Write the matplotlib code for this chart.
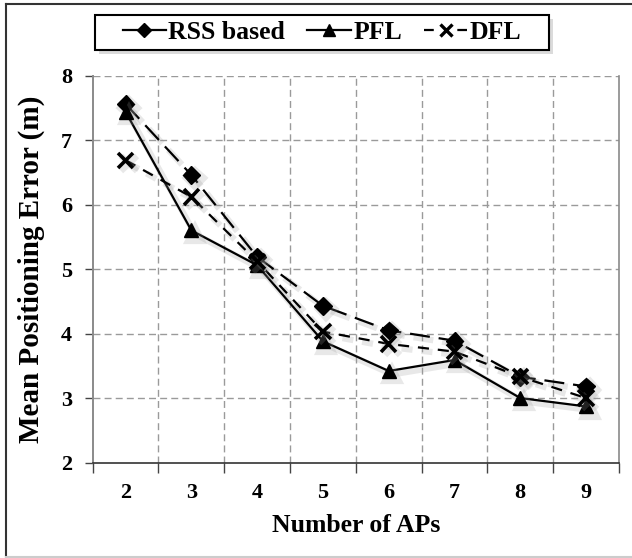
import matplotlib
matplotlib.use("Agg")
import matplotlib.pyplot as plt
from matplotlib.lines import Line2D
from matplotlib.patches import Rectangle
from matplotlib import patheffects as pe
import numpy as np

# Number of access points (categorical x axis)
aps = ["2", "3", "4", "5", "6", "7", "8", "9"]

# Mean positioning error (m) per method
rss_based = [7.56, 6.46, 5.19, 4.43, 4.05, 3.89, 3.33, 3.18]
pfl = [7.44, 5.60, 5.06, 3.88, 3.42, 3.59, 3.00, 2.87]
dfl = [6.69, 6.12, 5.12, 4.03, 3.84, 3.72, 3.33, 3.00]

y_ticks = [2, 3, 4, 5, 6, 7, 8]

plt.rcParams["font.family"] = ["Liberation Serif", "DejaVu Serif"]
plt.rcParams["font.weight"] = "bold"

W, H = 632, 558
fig = plt.figure(figsize=(W / 100, H / 100), dpi=100)
ax = fig.add_axes([0.1467, 0.1711, 0.9794 - 0.1467, 0.8643 - 0.1711])

x = np.arange(len(aps))
shadow = [pe.SimpleLineShadow(offset=(2.5, -2.5), shadow_color="0.6", alpha=0.22, linewidth=4.5),
          pe.Normal()]

ax.plot(x, rss_based, color="black", lw=1.6, dashes=(9, 4), marker="D", ms=9,
        mfc="black", mec="black", path_effects=shadow, zorder=4)
ax.plot(x, pfl, color="black", lw=1.6, ls="-", marker="^", ms=10,
        mfc="black", mec="black", path_effects=shadow, zorder=4)
ax.plot(x, dfl, color="black", lw=1.6, dashes=(5, 4), marker="x", ms=11, mew=2.6,
        mec="black", path_effects=shadow, zorder=4)

ax.set_xlim(-0.5, len(aps) - 0.5)
ax.set_ylim(2, 8)

# Category labels centered, tick marks on the category boundaries
ax.set_xticks(x)
ax.set_xticklabels(aps, fontsize=16, fontweight="bold")
ax.tick_params(axis="x", which="major", length=0, pad=15)
ax.set_xticks(np.arange(-0.5, len(aps)), minor=True)
ax.tick_params(axis="x", which="minor", length=7, width=1, color="#444444", direction="out")

ax.set_yticks(y_ticks)
ax.set_yticklabels([str(v) for v in y_ticks], fontsize=16, fontweight="bold")
ax.tick_params(axis="y", length=6, width=1, color="#444444", direction="out", pad=9)

# Dashed grid
for v in y_ticks[1:]:
    ax.axhline(v, color="#9a9a9a", lw=1, dashes=(5, 3), zorder=1)
for b in np.arange(0.5, len(aps) - 1):
    ax.axvline(b, color="#9a9a9a", lw=1, dashes=(5, 3), zorder=1)

ax.spines["top"].set_visible(False)
ax.spines["left"].set_color("#8a8a8a")
ax.spines["left"].set_linewidth(1.4)
ax.spines["right"].set_color("#8a8a8a")
ax.spines["right"].set_linewidth(1.2)
ax.spines["bottom"].set_color("#333333")
ax.spines["bottom"].set_linewidth(1.2)

ax.set_xlabel("Number of APs", fontsize=18.5, fontweight="bold", labelpad=8)
ax.set_ylabel("Mean Positioning Error (m)", fontsize=21, fontweight="bold", labelpad=11)

# Legend entries, drawn without their own frame
handles = [
    Line2D([], [], color="black", lw=1.6, marker="D", ms=7, label="RSS based"),
    Line2D([], [], color="black", lw=1.6, marker="^", ms=8, label="PFL"),
    Line2D([], [], color="black", lw=1.6, dashes=(4.4, 10.6), marker="x", ms=9, mew=2.4,
           label="DFL"),
]
leg = fig.legend(handles=handles, loc="center", bbox_to_anchor=(322 / W, 1 - 32.5 / H), ncol=3,
                 frameon=False,
                 prop={"family": "Liberation Serif", "weight": "bold", "size": 18.5},
                 handlelength=1.68, handletextpad=0.1, columnspacing=0.86,
                 borderpad=0.0, borderaxespad=0.0)

# Legend box with a soft drop shadow
bx0, by0, bw, bh = 95, 15, 454, 35
fig.add_artist(Rectangle(((bx0 + 4) / W, 1 - (by0 + bh + 4) / H), bw / W, bh / H,
                         transform=fig.transFigure, facecolor="0.86", edgecolor="none",
                         zorder=2))
fig.add_artist(Rectangle((bx0 / W, 1 - (by0 + bh) / H), bw / W, bh / H,
                         transform=fig.transFigure, facecolor="white", edgecolor="black",
                         lw=1.5, zorder=3))
leg.set_zorder(5)

# Chart border
fig.add_artist(Line2D([6 / W, 6 / W], [1.5 / H, 1 - 4 / H], transform=fig.transFigure,
                      color="#333333", lw=1.5))
fig.add_artist(Line2D([6 / W, 1.0], [1 - 4 / H, 1 - 4 / H], transform=fig.transFigure,
                      color="#333333", lw=1.5))
fig.add_artist(Line2D([6 / W, 1.0], [1.5 / H, 1.5 / H], transform=fig.transFigure,
                      color="#cccccc", lw=1.5))

fig.savefig("out.png", dpi=100)
